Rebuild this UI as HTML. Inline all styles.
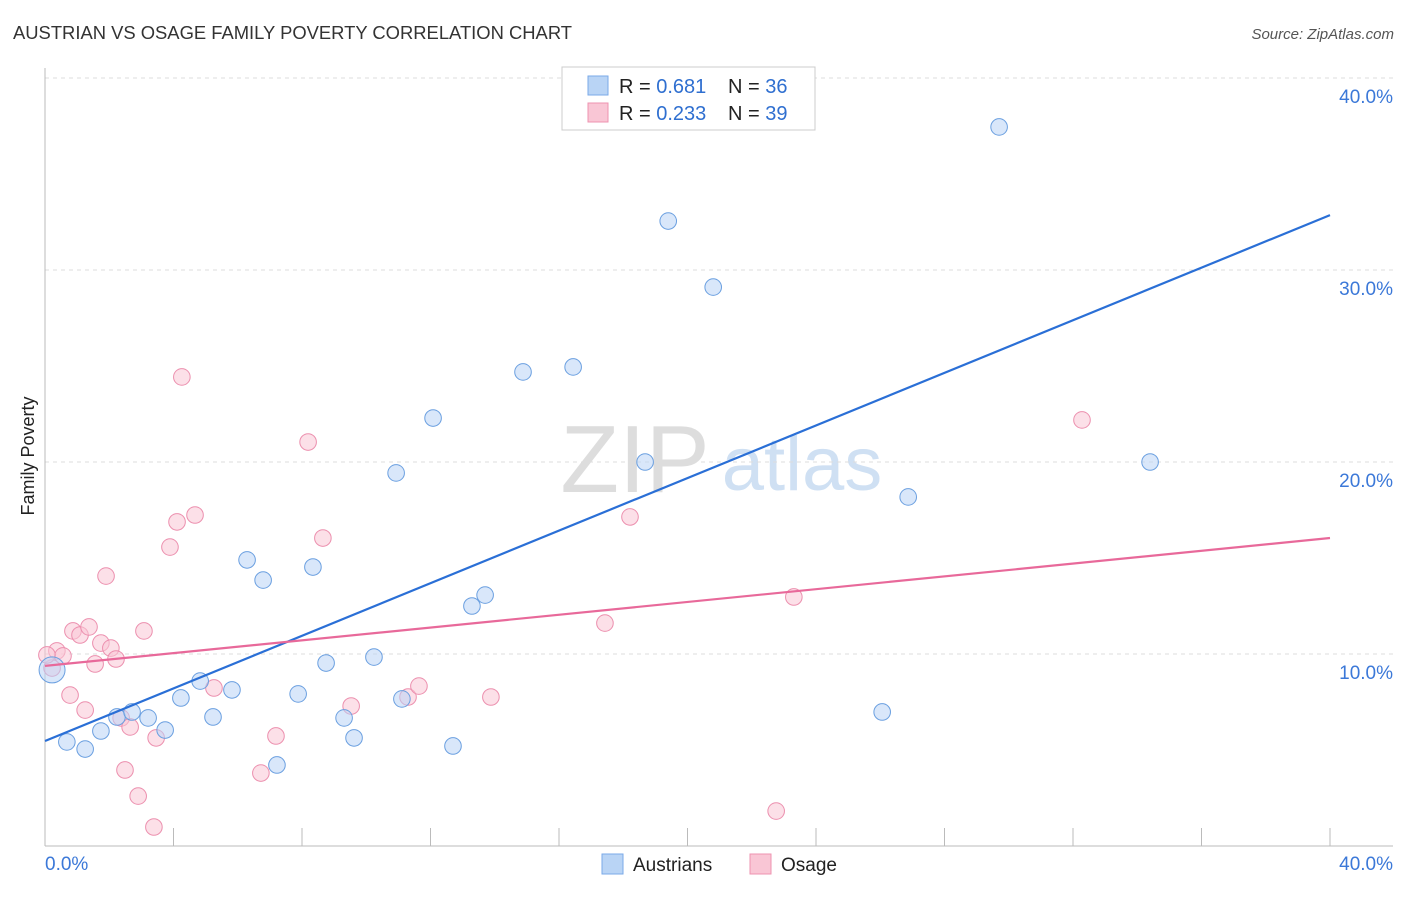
<!DOCTYPE html>
<html><head><meta charset="utf-8"><style>
body{margin:0;background:#fff;font-family:"Liberation Sans",sans-serif;}
svg text{font-family:"Liberation Sans",sans-serif;}
</style></head><body>
<svg id="c" width="1406" height="892" xmlns="http://www.w3.org/2000/svg">
<text x="13" y="39" font-size="18.4" fill="#333">AUSTRIAN VS OSAGE FAMILY POVERTY CORRELATION CHART</text>
<text x="1394" y="39" font-size="15" fill="#555" font-style="italic" text-anchor="end">Source: ZipAtlas.com</text>
<text x="34" y="456" font-size="18" fill="#222" text-anchor="middle" transform="rotate(-90 34 456)">Family Poverty</text>
<g><text x="635" y="492" font-size="96" fill="#ddd" font-family="Liberation Serif,serif" text-anchor="middle">ZIP</text><text x="802" y="490" font-size="76" fill="#cfe0f3" text-anchor="middle">atlas</text></g>
<g id="grid"></g>
<g id="marks"></g>
<g>
<rect x="562" y="67" width="253" height="63" fill="#fff" stroke="#ccc"/>
<rect x="588" y="76" width="20" height="19" fill="#b9d4f5" stroke="#7aaae8"/>
<rect x="588" y="103" width="20" height="19" fill="#f9c6d5" stroke="#ee93b0"/>
<text x="619" y="93" font-size="20" fill="#222">R = <tspan fill="#2f6fd0">0.681</tspan></text>
<text x="728" y="93" font-size="20" fill="#222">N = <tspan fill="#2f6fd0">36</tspan></text>
<text x="619" y="120" font-size="20" fill="#222">R = <tspan fill="#2f6fd0">0.233</tspan></text>
<text x="728" y="120" font-size="20" fill="#222">N = <tspan fill="#2f6fd0">39</tspan></text>
</g>
<g>
<rect x="602" y="854" width="21" height="20" fill="#b9d4f5" stroke="#7aaae8"/>
<text x="633" y="871" font-size="19" fill="#222">Austrians</text>
<rect x="750" y="854" width="21" height="20" fill="#f9c6d5" stroke="#ee93b0"/>
<text x="781" y="871" font-size="19" fill="#222">Osage</text>
</g>
</svg>
<script>
const blueX=[0.22,0.68,1.25,1.74,2.24,2.71,3.21,3.74,4.23,4.83,5.23,5.82,6.29,6.79,7.22,7.88,8.34,8.75,9.31,9.62,10.24,10.93,11.11,12.08,12.70,13.29,13.70,14.88,16.44,18.68,19.40,20.80,26.06,26.87,29.70,34.40];
const blueY=[9.17,5.42,5.05,5.99,6.72,6.98,6.67,6.04,7.71,8.59,6.72,8.13,14.90,13.85,4.22,7.92,14.53,9.53,6.67,5.63,9.84,19.43,7.66,22.29,5.21,12.50,13.07,24.69,24.95,20.0,32.55,29.11,6.98,18.18,37.45,20.0];
const pinkX=[0.22,0.37,0.56,0.78,0.87,1.09,1.25,1.37,1.56,1.74,1.90,2.05,2.21,2.37,2.49,2.65,2.90,3.08,3.39,3.46,3.89,4.11,4.26,4.67,5.26,6.72,7.19,8.19,8.65,9.53,11.30,11.64,13.88,17.43,18.21,22.76,23.31,32.28,0.06];
const pinkY=[9.27,10.16,9.90,7.86,11.2,10.99,7.08,11.41,9.48,10.57,14.06,10.31,9.74,6.67,3.96,6.20,2.60,11.2,0.99,5.63,15.57,16.88,24.43,17.24,8.23,3.80,5.73,21.04,16.04,7.29,7.76,8.33,7.76,11.61,17.14,1.82,12.97,22.19,9.95];
const yTicks=[10,20,30,40];
const xTickLabels=["0.0%","40.0%"];
const blueTrend=[5.47,32.86];
const pinkTrend=[9.38,16.04];
const NS="http://www.w3.org/2000/svg";
const sx=v=>45+v*1285/40, sy=v=>846-v*19.2;
function mk(t,a,p){const e=document.createElementNS(NS,t);for(const k in a)e.setAttribute(k,a[k]);p.appendChild(e);return e;}
const g=document.getElementById('grid'),m=document.getElementById('marks');
yTicks.forEach(t=>{
 const l=mk('line',{x1:45,x2:1393,y1:sy(t),y2:sy(t),stroke:'#ddd','stroke-dasharray':'4 4'},g);
 
 
 const tx=mk('text',{x:1393,y:sy(t)+25,'font-size':19,fill:'#3b78d8','text-anchor':'end'},g);tx.textContent=t.toFixed(1)+'%';
 
 
});
mk('line',{x1:45,x2:45,y1:68,y2:846,stroke:'#bbb'},g);
mk('line',{x1:45,x2:1393,y1:846,y2:846,stroke:'#bbb'},g);
for(let i=0;i<=10;i++){mk('line',{x1:sx(i*4),x2:sx(i*4),y1:828,y2:846,stroke:'#bbb'},g);}
[[0,'start',45],[1,'end',1393]].forEach(([i,a,x])=>{const t=mk('text',{x:x,y:870,'font-size':19,fill:'#3b78d8','text-anchor':a},g);t.textContent=xTickLabels[i];
 
 });
function pts(X,Y,f,s,n){X.forEach((x,i)=>{const c=mk('circle',{cx:sx(x),cy:sy(Y[i]),r:i===0&&n==='austrian-point'?13:8.3,fill:f,'fill-opacity':0.55,stroke:s,'stroke-width':1},m);
 
 });}
pts(pinkX,pinkY,'#f9c6d5','#ec8fae','osage-point');
pts(blueX,blueY,'#b9d4f5','#6a9fe0','austrian-point');
const bl=mk('line',{x1:sx(0),y1:sy(blueTrend[0]),x2:sx(40),y2:sy(blueTrend[1]),stroke:'#2a6fd6','stroke-width':2.2},m);


const pl=mk('line',{x1:sx(0),y1:sy(pinkTrend[0]),x2:sx(40),y2:sy(pinkTrend[1]),stroke:'#e8699a','stroke-width':2.2},m);


</script>
</body></html>
